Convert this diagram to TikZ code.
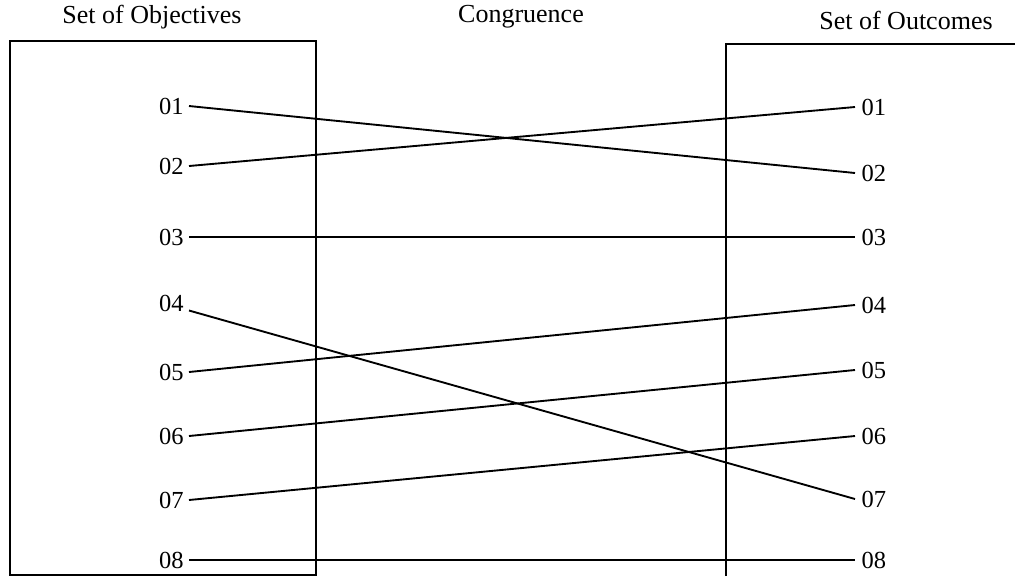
\documentclass[tikz,border=0pt]{standalone}
\usepackage{fontspec}
\setmainfont{Liberation Serif}
\usetikzlibrary{positioning}

\begin{document}
\begin{tikzpicture}[
  x=0.4pt,
  y=-0.4pt,
  frame/.style={line width=0.8pt},
  link/.style={line width=0.75pt},
  title/.style={font=\fontsize{10.4}{12}\selectfont},
  lobj/.style={anchor=east, inner sep=2pt, font=\fontsize{9.8}{12}\selectfont},
  lout/.style={anchor=west, inner sep=2.4pt, font=\fontsize{9.8}{12}\selectfont}
]
\useasboundingbox (0,0) rectangle (1015,576);

% headings
\node[title] (tobj) at (152,17) {Set of Objectives};
\node[title] (tcon) at (521,17) {Congruence};
\node[title] (tout) at (906,20) {Set of Outcomes};

% the two sets
\draw[frame] (10,41) rectangle (316,575);
\draw[frame] (726,576) -- (726,44) -- (1015,44);

% objectives
\node[lobj] (o1) at (189,106) {01};
\node[lobj] (o2) at (189,166) {02};
\node[lobj] (o3) at (189,237) {03};
\node[lobj] (o4) at (189,303) {04};
\node[lobj] (o5) at (189,372) {05};
\node[lobj] (o6) at (189,436) {06};
\node[lobj] (o7) at (189,500) {07};
\node[lobj] (o8) at (189,560) {08};

% outcomes
\node[lout] (u1) at (855,107) {01};
\node[lout] (u2) at (855,173) {02};
\node[lout] (u3) at (855,237) {03};
\node[lout] (u4) at (855,305) {04};
\node[lout] (u5) at (855,370) {05};
\node[lout] (u6) at (855,436) {06};
\node[lout] (u7) at (855,499) {07};
\node[lout] (u8) at (855,560) {08};

% congruence
\draw[link] (o1.east) -- (u2.west);
\draw[link] (o2.east) -- (u1.west);
\draw[link] (o3.east) -- (u3.west);
\draw[link] ([yshift=-3pt]o4.east) -- (u7.west);
\draw[link] (o5.east) -- (u4.west);
\draw[link] (o6.east) -- (u5.west);
\draw[link] (o7.east) -- (u6.west);
\draw[link] (o8.east) -- (u8.west);
\end{tikzpicture}
\end{document}
